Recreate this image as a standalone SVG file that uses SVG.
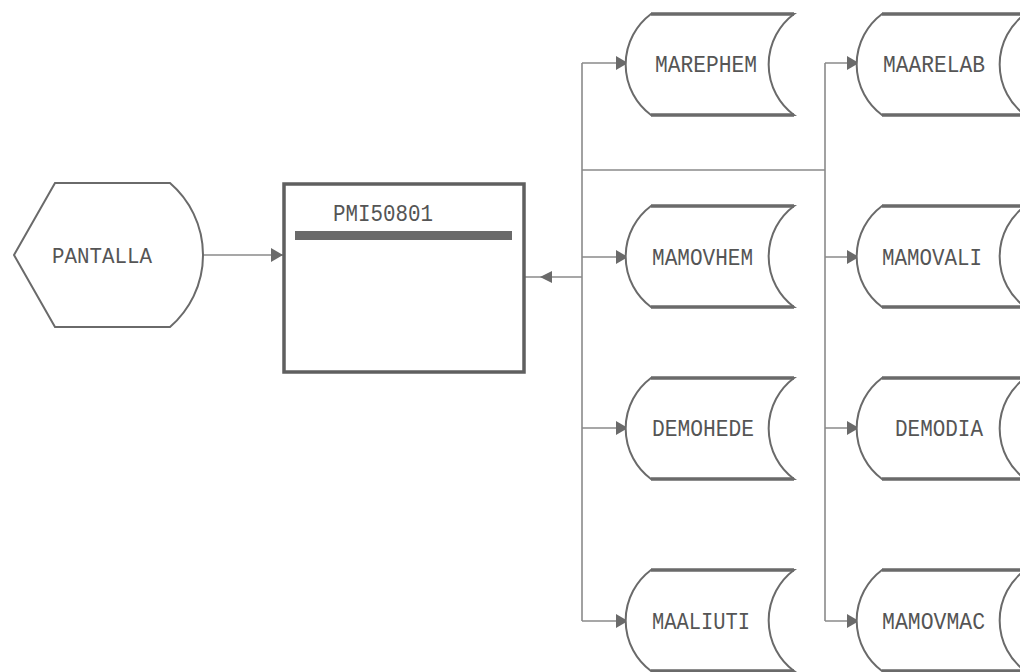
<svg xmlns="http://www.w3.org/2000/svg" width="1020" height="672" viewBox="0 0 1020 672">
<style>
.bg{fill:#ffffff}
.shape{fill:#ffffff;stroke:#6a6a6a;stroke-width:2}
.edge{stroke:#6a6a6a;stroke-width:3.5;fill:none}
.box{fill:#ffffff;stroke:#5f5f5f;stroke-width:3.5}
.bar{fill:#6a6a6a}
.conn{stroke:#8a8a8a;stroke-width:1.6;fill:none}
.lbl{font-family:"Liberation Mono",monospace;fill:#555555;font-size:24px}
.sm{font-size:22px}
</style>
<defs>
<marker id="ah" viewBox="0 0 12 14" refX="12" refY="7" markerWidth="12" markerHeight="14" markerUnits="userSpaceOnUse" orient="auto">
<path d="M0,0 L12,7 L0,14 Z" fill="#6a6a6a"/>
</marker>
</defs>
<rect class="bg" x="0" y="0" width="1020" height="672"/>

<g id="connectors">
<line class="conn" x1="203" y1="255" x2="283" y2="255" marker-end="url(#ah)"/>
<line class="conn" x1="582" y1="277" x2="524" y2="277"/>
<path d="M552,271 L540,277 L552,283 Z" fill="#6a6a6a"/>
<line class="conn" x1="582" y1="63" x2="582" y2="621"/>
<line class="conn" x1="825" y1="63" x2="825" y2="621"/>
<line class="conn" x1="582" y1="170" x2="825" y2="170"/>
<line class="conn" x1="582" y1="63" x2="628" y2="63" marker-end="url(#ah)"/>
<line class="conn" x1="582" y1="257" x2="628" y2="257" marker-end="url(#ah)"/>
<line class="conn" x1="582" y1="428" x2="628" y2="428" marker-end="url(#ah)"/>
<line class="conn" x1="582" y1="621" x2="628" y2="621" marker-end="url(#ah)"/>
<line class="conn" x1="825" y1="63" x2="859" y2="63" marker-end="url(#ah)"/>
<line class="conn" x1="825" y1="257" x2="859" y2="257" marker-end="url(#ah)"/>
<line class="conn" x1="825" y1="428" x2="859" y2="428" marker-end="url(#ah)"/>
<line class="conn" x1="825" y1="621" x2="859" y2="621" marker-end="url(#ah)"/>
</g>

<g id="pantalla">
<path class="shape" d="M55,183 L170,183 A95 95 0 0 1 170,327 L55,327 L14,255 Z"/>
<text class="lbl sm" x="52" y="263" textLength="100" lengthAdjust="spacingAndGlyphs">PANTALLA</text>
</g>

<g id="pmi50801">
<rect class="box" x="284" y="184" width="240" height="188"/>
<rect class="bar" x="295" y="231" width="217" height="9"/>
<text class="lbl" x="333" y="221" textLength="100" lengthAdjust="spacingAndGlyphs">PMI50801</text>
</g>

<g id="marephem">
<path class="shape" d="M651,14 L794,14 A63 63 0 0 0 794,115 L651,115 A63 63 0 0 1 651,14 Z"/>
<path class="edge" d="M651,14 L794,14 M651,115 L794,115"/>
<text class="lbl" x="655" y="72" textLength="102" lengthAdjust="spacingAndGlyphs">MAREPHEM</text>
</g>

<g id="mamovhem">
<path class="shape" d="M651,206 L794,206 A63 63 0 0 0 794,307 L651,307 A63 63 0 0 1 651,206 Z"/>
<path class="edge" d="M651,206 L794,206 M651,307 L794,307"/>
<text class="lbl" x="652" y="265" textLength="101" lengthAdjust="spacingAndGlyphs">MAMOVHEM</text>
</g>

<g id="demohede">
<path class="shape" d="M651,378 L794,378 A63 63 0 0 0 794,479 L651,479 A63 63 0 0 1 651,378 Z"/>
<path class="edge" d="M651,378 L794,378 M651,479 L794,479"/>
<text class="lbl" x="652" y="436" textLength="102" lengthAdjust="spacingAndGlyphs">DEMOHEDE</text>
</g>

<g id="maaliuti">
<path class="shape" d="M651,570 L794,570 A63 63 0 0 0 794,671 L651,671 A63 63 0 0 1 651,570 Z"/>
<path class="edge" d="M651,570 L794,570 M651,671 L794,671"/>
<text class="lbl" x="652" y="629" textLength="98" lengthAdjust="spacingAndGlyphs">MAALIUTI</text>
</g>

<g id="maarelab">
<path class="shape" d="M882,14 L1025,14 A63 63 0 0 0 1025,115 L882,115 A63 63 0 0 1 882,14 Z"/>
<path class="edge" d="M882,14 L1025,14 M882,115 L1025,115"/>
<text class="lbl" x="883" y="72" textLength="102" lengthAdjust="spacingAndGlyphs">MAARELAB</text>
</g>

<g id="mamovali">
<path class="shape" d="M882,206 L1025,206 A63 63 0 0 0 1025,307 L882,307 A63 63 0 0 1 882,206 Z"/>
<path class="edge" d="M882,206 L1025,206 M882,307 L1025,307"/>
<text class="lbl" x="882" y="265" textLength="100" lengthAdjust="spacingAndGlyphs">MAMOVALI</text>
</g>

<g id="demodia">
<path class="shape" d="M882,378 L1025,378 A63 63 0 0 0 1025,479 L882,479 A63 63 0 0 1 882,378 Z"/>
<path class="edge" d="M882,378 L1025,378 M882,479 L1025,479"/>
<text class="lbl" x="895" y="436" textLength="88" lengthAdjust="spacingAndGlyphs">DEMODIA</text>
</g>

<g id="mamovmac">
<path class="shape" d="M882,570 L1025,570 A63 63 0 0 0 1025,671 L882,671 A63 63 0 0 1 882,570 Z"/>
<path class="edge" d="M882,570 L1025,570 M882,671 L1025,671"/>
<text class="lbl" x="882" y="629" textLength="103" lengthAdjust="spacingAndGlyphs">MAMOVMAC</text>
</g>
</svg>
